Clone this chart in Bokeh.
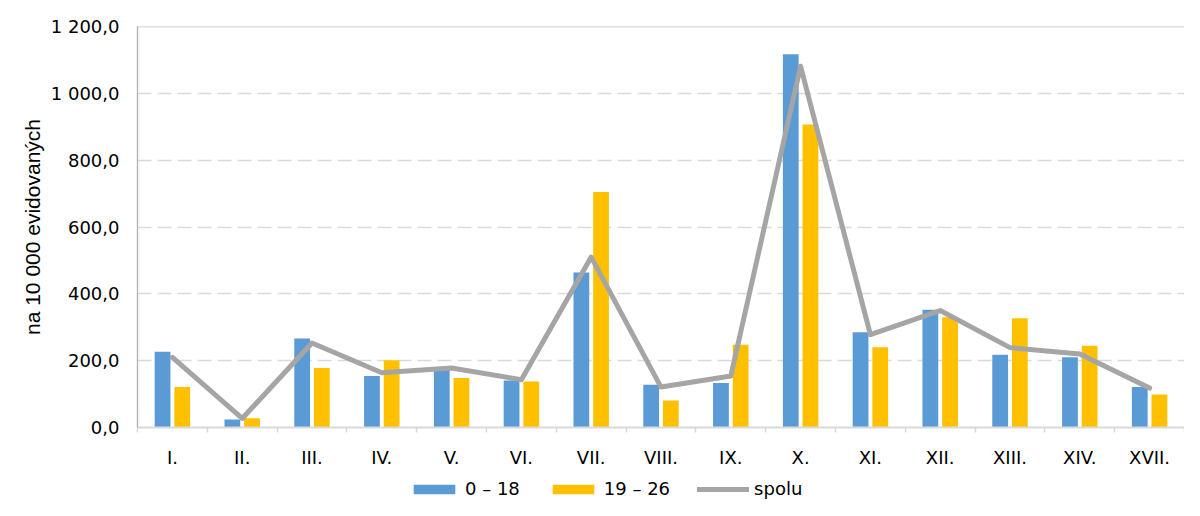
import numpy as np
from bokeh.plotting import figure
from bokeh.layouts import column
from bokeh.models import (FixedTicker, Legend, LegendItem, Span)
from bokeh.embed import file_html
from bokeh.resources import INLINE

categories = ["I.", "II.", "III.", "IV.", "V.", "VI.", "VII.", "VIII.", "IX.",
              "X.", "XI.", "XII.", "XIII.", "XIV.", "XVII."]
age_0_18 = [227, 24, 266, 154, 180, 141, 464, 128, 133, 1117, 285, 352, 218, 210, 121]
age_19_26 = [121, 28, 178, 201, 148, 138, 705, 81, 248, 907, 240, 330, 327, 245, 99]
spolu = [210, 27, 253, 164, 178, 143, 510, 121, 154, 1081, 278, 350, 239, 220, 118]
y_ticks = [0, 200, 400, 600, 800, 1000, 1200]
y_tick_labels = ["0,0", "200,0", "400,0", "600,0", "800,0", "1 000,0", "1 200,0"]
series_names = ["0 – 18", "19 – 26", "spolu"]

BLUE = "#5B9BD5"
YELLOW = "#FFC000"
GRAY = "#A5A5A5"
TICK_FONT = "DejaVu Sans"

n = len(categories)
centers = np.arange(n) + 0.5

W = 1184
p = figure(width=W, height=470, output_backend="svg", toolbar_location=None,
           x_range=(0, n), y_range=(y_ticks[0], y_ticks[-1]),
           min_border_left=137, min_border_right=0, min_border_top=26,
           min_border_bottom=43)
p.outline_line_color = None
p.background_fill_color = "white"
p.border_fill_color = "white"

bw = 0.226
off = 0.141
bar_style = dict(width=bw, bottom=0, line_color=None)
p.vbar(x=centers - off, top=age_0_18, fill_color=BLUE, **bar_style)
p.vbar(x=centers + off, top=age_19_26, fill_color=YELLOW, **bar_style)
line_style = dict(line_color=GRAY, line_width=5, line_cap="round", line_join="round")
p.line(x=centers, y=spolu, **line_style)

# top solid border line at the axis maximum
p.add_layout(Span(location=y_ticks[-1], dimension="width",
                  line_color="#BFBFBF", line_width=1.5))

# y axis
p.yaxis.ticker = FixedTicker(ticks=y_ticks)
p.yaxis.major_label_overrides = {t: l for t, l in zip(y_ticks, y_tick_labels)}
p.yaxis.major_tick_line_color = None
p.yaxis.major_tick_out = 0
p.yaxis.major_tick_in = 0
p.yaxis.minor_tick_line_color = None
p.yaxis.axis_line_color = "#B0B0B0"
p.yaxis.axis_line_width = 1.3
p.yaxis.major_label_standoff = 18
p.yaxis.major_label_text_font = TICK_FONT
p.yaxis.major_label_text_font_size = "18px"
p.yaxis.major_label_text_color = "#000000"
p.yaxis.axis_label = "na 10 000 evidovaných"
p.yaxis.axis_label_text_font = "Liberation Sans"
p.yaxis.axis_label_text_font_style = "normal"
p.yaxis.axis_label_text_font_size = "21px"
p.yaxis.axis_label_text_color = "#000000"
p.yaxis.axis_label_standoff = 4

# x axis
p.xaxis.ticker = FixedTicker(ticks=list(centers), minor_ticks=list(np.arange(n + 1)))
p.xaxis.major_label_overrides = {float(c): lab for c, lab in zip(centers, categories)}
p.xaxis.major_tick_line_color = None
p.xaxis.major_tick_out = 0
p.xaxis.major_tick_in = 0
p.xaxis.minor_tick_line_color = "#D9D9D9"
p.xaxis.minor_tick_line_width = 1.5
p.xaxis.minor_tick_out = 5
p.xaxis.minor_tick_in = 0
p.xaxis.axis_line_color = "#D9D9D9"
p.xaxis.axis_line_width = 2
p.xaxis.major_label_standoff = 14
p.xaxis.major_label_text_font = TICK_FONT
p.xaxis.major_label_text_font_size = "18px"
p.xaxis.major_label_text_color = "#000000"

# grid
p.xgrid.grid_line_color = None
p.ygrid.ticker = FixedTicker(ticks=y_ticks[1:-1])
p.ygrid.grid_line_color = "#D9D9D9"
p.ygrid.grid_line_width = 1.5
p.ygrid.grid_line_dash = "14 6"

# legend strip below the chart (same series, hidden; only the legend shows)
lg = figure(width=W, height=30, output_backend="svg", toolbar_location=None,
            x_axis_type=None, y_axis_type=None, x_range=(0, n),
            y_range=(y_ticks[0], y_ticks[-1]), min_border=0)
lg.outline_line_color = None
lg.grid.grid_line_color = None
l1 = lg.vbar(x=centers - off, top=age_0_18, fill_color=BLUE, visible=False, **bar_style)
l2 = lg.vbar(x=centers + off, top=age_19_26, fill_color=YELLOW, visible=False, **bar_style)
l3 = lg.line(x=centers, y=spolu, visible=False, **line_style)
legend = Legend(items=[LegendItem(label=series_names[0], renderers=[l1]),
                       LegendItem(label=series_names[1], renderers=[l2]),
                       LegendItem(label=series_names[2], renderers=[l3])],
                orientation="horizontal", location=(271, 1),
                glyph_width=52, glyph_height=12, label_standoff=5, spacing=27,
                label_text_font=TICK_FONT, label_text_font_size="18px",
                label_text_color="#000000", border_line_color=None,
                background_fill_alpha=0, padding=0, margin=0,
                label_height=18, inactive_fill_alpha=0)
lg.add_layout(legend)

layout = column(p, lg, spacing=0)
open("out.html", "w").write(file_html(layout, INLINE))
